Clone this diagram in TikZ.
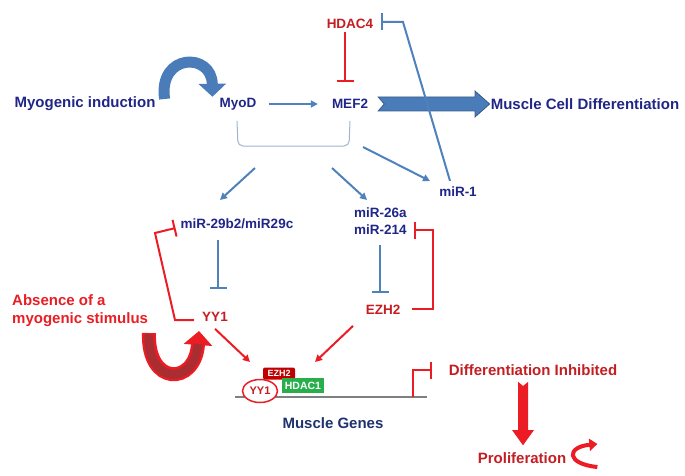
\documentclass[tikz,border=0pt]{standalone}
\usepackage{fontspec}
\setmainfont{Liberation Sans}
\usetikzlibrary{arrows.meta,calc,shapes.geometric}
\definecolor{navyT}{RGB}{32,38,135}
\definecolor{genesT}{RGB}{30,50,110}
\definecolor{redT}{RGB}{232,30,36}
\definecolor{darkR}{RGB}{195,30,35}
\definecolor{lineB}{RGB}{79,129,189}
\definecolor{blockB}{RGB}{74,124,186}
\definecolor{blockD}{RGB}{56,93,138}
\definecolor{lineR}{RGB}{235,28,36}
\definecolor{uDark}{RGB}{170,45,50}
\definecolor{geneC}{RGB}{128,128,128}
\definecolor{brkC}{RGB}{160,180,205}
\definecolor{boxR}{RGB}{192,0,0}
\definecolor{boxG}{RGB}{40,175,75}
\begin{document}
\begin{tikzpicture}[x=1pt,y=-1pt,
  lbl/.style={font=\bfseries\fontsize{15}{18}\selectfont, inner sep=1pt},
  sm/.style={font=\bfseries\fontsize{13.5}{16}\selectfont, inner sep=1pt},
  bluearr/.style={draw=lineB, line width=2pt, -{Triangle[length=7pt,width=7pt]}},
  blueinh/.style={draw=lineB, line width=2pt, -{Bar[width=17pt]}},
  redinh/.style={draw=lineR, line width=2pt, -{Bar[width=17pt]}},
  redarr/.style={draw=lineR, line width=2pt, -{Triangle[length=7pt,width=7pt]}},
]
\useasboundingbox (0,0) rectangle (685,476);

% text nodes
\node[lbl, text=navyT] (induct) at (85,104) {Myogenic induction};
\node[sm, text=navyT] (myod) at (238,104) {MyoD};
\node[sm, text=navyT] (mef2) at (350,104) {MEF2};
\node[sm, text=darkR] (hdac4) at (350,24) {HDAC4};
\node[lbl, text=navyT] (mcd) at (585,104) {Muscle Cell Differentiation};
\node[sm, text=navyT] (mir1) at (458,192) {miR-1};
\node[sm, text=navyT] (mir29) at (237,224) {miR-29b2/miR29c};
\node[sm, text=navyT, anchor=west] (mir26) at (353,213) {miR-26a};
\node[sm, text=navyT, anchor=west] (mir214) at (353,230) {miR-214};
\node[sm, text=darkR] (yy1) at (215,317) {YY1};
\node[sm, text=darkR] (ezh2) at (383,310) {EZH2};
\node[lbl, text=redT, anchor=west, align=left] (absence) at (11,311) {Absence of a\\myogenic stimulus};
\node[lbl, text=genesT] (genes) at (333,423) {Muscle Genes};
\node[lbl, text=darkR] (diffinh) at (533,370) {Differentiation Inhibited};
\node[lbl, text=darkR] (prolif) at (522,458) {Proliferation};

% curved blue arrow (induction)
\draw[line width=11pt, draw=blockB, -{Triangle[length=13pt,width=27pt]}]
  ($(induct.east)+(8,-5)$) .. controls (158,53) and (212,52) .. ($(myod.north west)+(-6,0)$);

% MyoD -> MEF2
\draw[bluearr, shorten <=11pt, shorten >=13pt] (myod.east) -- (mef2.west);

% HDAC4 -| MEF2
\draw[redinh] ($(hdac4.south)+(-5,2)$) -- ++(0,50);

% block arrow MEF2 -> Muscle Cell Differentiation
\filldraw[fill=blockB, draw=blockD, line width=0.8pt]
  ($(mef2.east)+(9,-7)$) -- (475,97) -- (475,91) -- (mcd.west) -- (475,117) -- (475,111)
  -- ($(mef2.east)+(9,7)$) -- ($(mef2.east)+(15,0)$) -- cycle;

% miR-1 -| HDAC4
\draw[blueinh] ($(mir1.north)+(-8,-5)$) -- (403,22) -- ($(hdac4.east)+(7,-2)$);

% bracket under MyoD / MEF2
\coordinate (brL) at (237,121);
\coordinate (brR) at (350,121);
\draw[draw=brkC, line width=1pt, rounded corners=5pt] (brL) -- (238,146) -- (349,146) -- (brR);

% arrows from bracket
\coordinate (b1s) at (255,168); \coordinate (b1e) at (220,200);
\coordinate (b2s) at (332,168); \coordinate (b2e) at (367,200);
\coordinate (b3s) at (363,147); \coordinate (b3e) at (430,181);
\draw[bluearr] (b1s) -- (b1e);
\draw[bluearr] (b2s) -- (b2e);
\draw[bluearr] (b3s) -- (b3e);

% miR -| targets
\draw[blueinh] ($(mir29.south)+(-19,10)$) -- ($(mir29.south)+(-19,59)$);
\draw[blueinh] ($(mir214.south)+(0,9)$) -- ($(mir214.south)+(0,57)$);

% red feedback brackets
\draw[redinh] ($(ezh2.east)+(11,-1)$) -- ++(21,0) |- ($(mir214.east)+(6,0)$);
\draw[redinh] ($(yy1.west)+(-7,3)$) -- (175,320) -- (155,233) -- ($(mir29.west)+(-4,4)$);

% red U arrow (absence of stimulus)
\draw[line width=14pt, draw=lineR, -{Triangle[length=14pt,width=28pt]}]
  (149,333) .. controls (147,386) and (195,386) .. (199,331);
\draw[line width=9pt, draw=uDark, shorten >=13pt, shorten <=1.5pt]
  (149,333) .. controls (147,386) and (195,386) .. (199,331);

% gene line and complex
\coordinate (gL) at (235,397);
\coordinate (gR) at (427,397);
\draw[line width=2.5pt, draw=geneC] (gL) -- (gR);
\node[fill=boxR, rounded corners=2pt, minimum width=32pt, minimum height=12pt, inner sep=0pt,
      text=white, font=\bfseries\fontsize{9}{10}\selectfont] (ezh2g) at (279,373.5) {EZH2};
\node[fill=boxG, minimum width=42pt, minimum height=15pt, inner sep=0pt,
      text=white, font=\bfseries\fontsize{10.5}{12}\selectfont] (hdac1g) at (303,385.5) {HDAC1};
\node[ellipse, draw=lineR, line width=1.5pt, fill=white, minimum width=35pt, minimum height=23pt,
      inner sep=0pt, text=darkR, font=\bfseries\fontsize{11}{12}\selectfont] (yy1g) at (260,391) {YY1};

% arrows to genes
\coordinate (yye) at (250,362);
\coordinate (eze) at (315,362);
\draw[redarr] ($(yy1.south)+(0,6)$) -- (yye);
\draw[redarr] ($(ezh2.south)+(-30,10)$) -- (eze);

% promoter inhibition
\draw[redinh] (413,397) -- (413,370) -- ($(diffinh.west)+(-16,0)$);

% down arrow
\fill[lineR] ($(diffinh.south)+(-15,5)$) -- (523,386) -- (528,382) -- (528,430) -- (534,430)
  -- ($(prolif.north)+(1,-6)$) -- (512,430) -- (518,430) -- cycle;

% curl arrow
\draw[line width=4pt, draw=lineR, -{Triangle[length=8pt,width=12pt]}]
  ($(prolif.east)+(30,9)$) .. controls (566,464) and (566,447) .. ($(prolif.east)+(30,-14)$);
\end{tikzpicture}
\end{document}
